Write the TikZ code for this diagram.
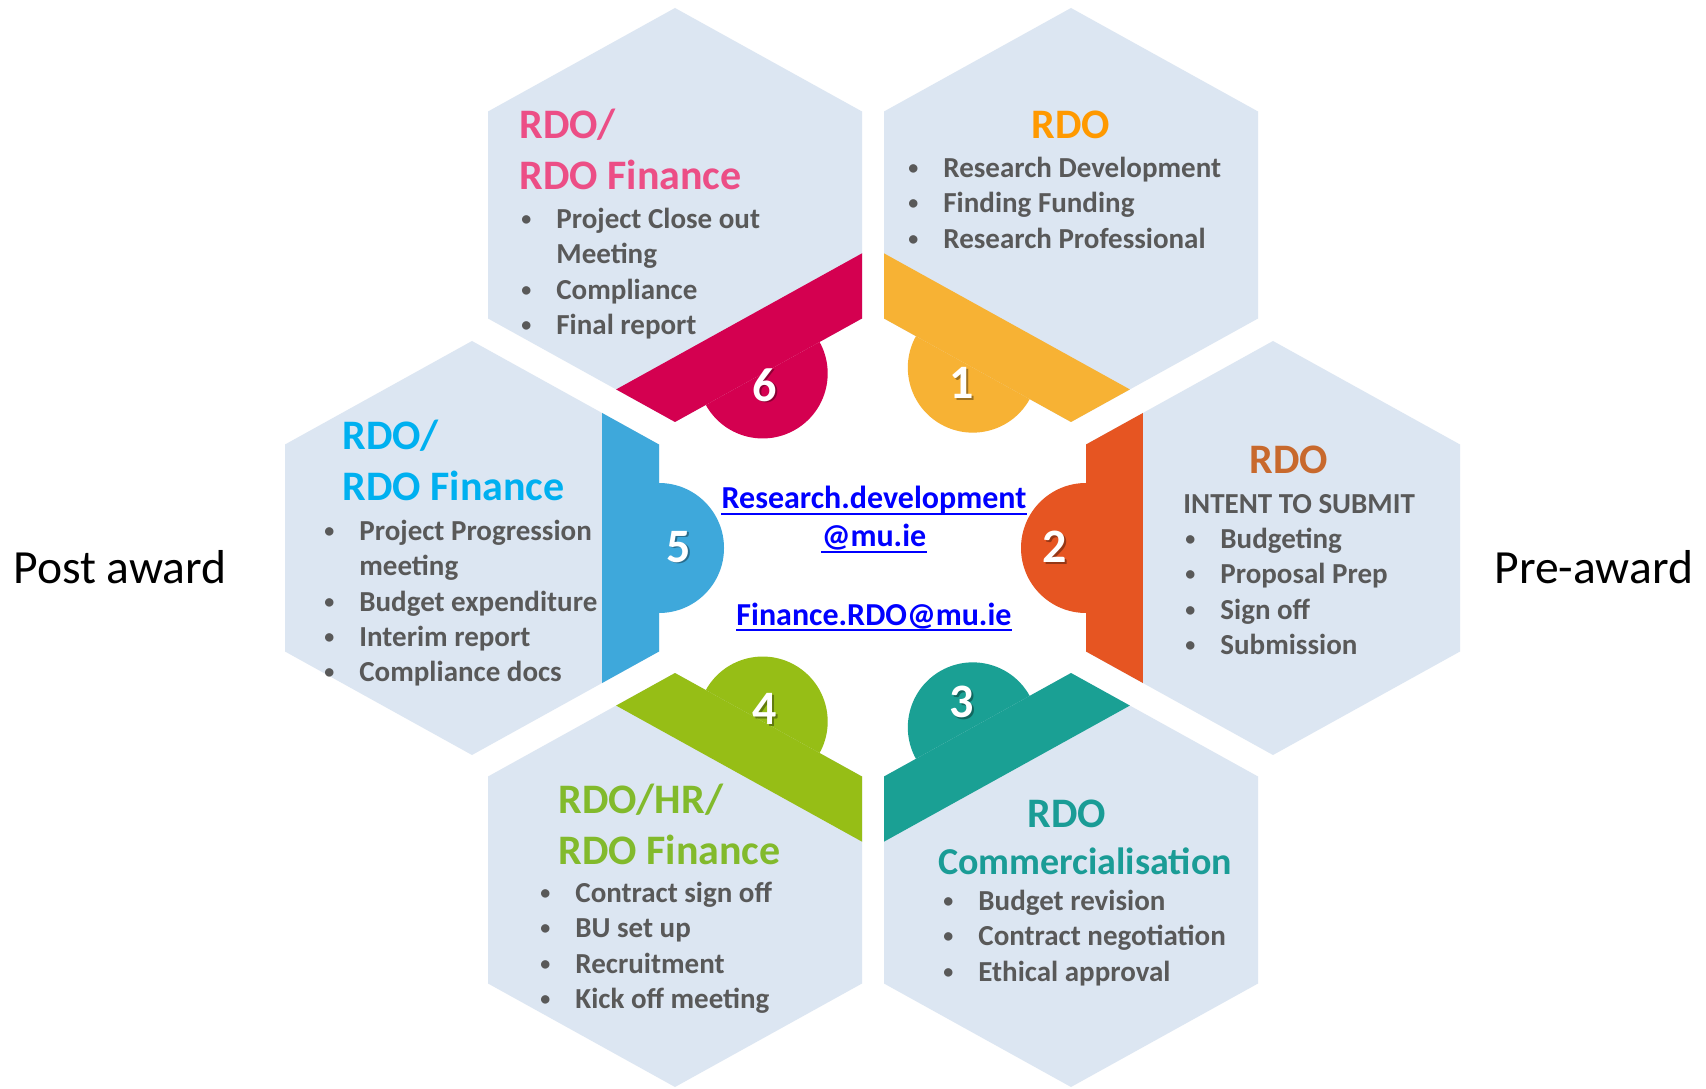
\documentclass[tikz,border=0pt]{standalone}
\usepackage{fontspec}
\setmainfont{Carlito}
\definecolor{hexbg}{RGB}{220,230,242}
\definecolor{cSix}{RGB}{212,0,80}
\definecolor{cOne}{RGB}{247,178,52}
\definecolor{cTwo}{RGB}{230,85,34}
\definecolor{cThree}{RGB}{26,160,148}
\definecolor{cFour}{RGB}{150,190,22}
\definecolor{cFive}{RGB}{62,168,219}
\definecolor{tSix}{RGB}{236,78,134}
\definecolor{tOne}{RGB}{255,153,0}
\definecolor{tTwo}{RGB}{200,105,45}
\definecolor{tThree}{RGB}{26,156,150}
\definecolor{tFour}{RGB}{130,186,44}
\definecolor{tFive}{RGB}{0,176,240}
\definecolor{bodygray}{RGB}{89,89,89}
\definecolor{linkblue}{RGB}{0,0,255}
\newcommand\hexoutline{(0,207) -- (187,103.5) -- (187,-103.5) -- (0,-207) -- (-187,-103.5) -- (-187,103.5) -- cycle}
% #1 centre, #2 normal angle, #3 edge distance, #4 colour, #5 offset of the half disc along the edge
\newcommand\hexpiece[5]{%
  \begin{scope}[shift={#1}]
    \fill[hexbg] \hexoutline;
    \begin{scope}
      \clip \hexoutline;
      \fill[#4, rotate=#2] (#3-57,-300) -- (#3+5,-300) -- (#3+5,300) -- (#3-57,300) -- cycle;
    \end{scope}
    \fill[#4, rotate=#2] (#3,#5+65) arc[start angle=90, end angle=-90, radius=65] -- cycle;
  \end{scope}}
\newcommand\bul{\raisebox{1.5pt}{\fontsize{10}{12}\selectfont\textbullet}}
\newcommand\blist[1]{\begin{tabular}[t]{@{}p{17.5pt}@{}l@{}}#1\end{tabular}}
\tikzset{
  ttl/.style={inner sep=0pt, font=\fontsize{21}{25.5}\selectfont\bfseries},
  bodytxt/.style={inner sep=0pt, text=bodygray, font=\fontsize{14.5}{17.65}\selectfont\bfseries},
  numlbl/.style={inner sep=0pt, text=white, font=\fontsize{24}{28}\selectfont\bfseries},
  numshadow/.style={inner sep=0pt, text=black, opacity=0.35, font=\fontsize{24}{28}\selectfont\bfseries},
  linktxt/.style={inner sep=0pt, text=linkblue, font=\fontsize{16}{19}\selectfont\bfseries},
  linkline/.style={linkblue, line width=1.1pt},
  sidetxt/.style={inner sep=0pt, text=black, font=\fontsize{23.8}{28}\selectfont}
}
\begin{document}
\begin{tikzpicture}[x=0.5pt, y=0.5pt]
\useasboundingbox (0,0) rectangle (1706,1088);
\fill[white] (0,0) rectangle (1706,1088);

% hexagons with coloured bands and half discs
\hexpiece{(675,873)}{-61.04}{181.1}{cSix}{0}
\hexpiece{(1071,873)}{-118.96}{181.1}{cOne}{-12}
\hexpiece{(472,540)}{0}{187}{cFive}{0}
\hexpiece{(1273,540)}{180}{187}{cTwo}{0}
\hexpiece{(675,208)}{61.04}{181.1}{cFour}{0}
\hexpiece{(1071,208)}{118.96}{181.1}{cThree}{12}

% numbers
\node[numshadow] (s6) at (766.5,701.5) {6};
\node[numlbl] (n6) at (765,703) {6};
\node[numshadow] (s1) at (963.5,703.5) {1};
\node[numlbl] (n1) at (962,705) {1};
\node[numshadow] (s5) at (680.5,539.5) {5};
\node[numlbl] (n5) at (679,541) {5};
\node[numshadow] (s2) at (1056.5,539.5) {2};
\node[numlbl] (n2) at (1055,541) {2};
\node[numshadow] (s4) at (766.5,377.5) {4};
\node[numlbl] (n4) at (765,379) {4};
\node[numshadow] (s3) at (963.5,384.5) {3};
\node[numlbl] (n3) at (962,386) {3};

% hex 6
\node[ttl, text=tSix, anchor=base west] (h6a) at (519,949.5) {RDO/};
\node[ttl, text=tSix, anchor=base west] (h6b) at (519,898.5) {RDO Finance};
\node[bodytxt, anchor=base west] (h6c) at (521,859.5) {\blist{\bul & Project Close out\\ & Meeting\\ \bul & Compliance\\ \bul & Final report}};

% hex 1
\node[ttl, text=tOne, anchor=base] (h1a) at (1071,949.5) {RDO};
\node[bodytxt, anchor=base west] (h1b) at (908,910.5) {\blist{\bul & Research Development\\ \bul & Finding Funding\\ \bul & Research Professional}};

% hex 5
\node[ttl, text=tFive, anchor=base west] (h5a) at (342,638.5) {RDO/};
\node[ttl, text=tFive, anchor=base west] (h5b) at (342,587.5) {RDO Finance};
\node[bodytxt, anchor=base west] (h5c) at (324,547.5) {\blist{\bul & Project Progression\\ & meeting\\ \bul & Budget expenditure\\ \bul & Interim report\\ \bul & Compliance docs}};

% hex 2
\node[ttl, text=tTwo, anchor=base] (h2a) at (1289,614.5) {RDO};
\node[bodytxt, anchor=base west] (h2b) at (1183,574.5) {INTENT TO SUBMIT};
\node[bodytxt, anchor=base west] (h2c) at (1185,539.5) {\blist{\bul & Budgeting\\ \bul & Proposal Prep\\ \bul & Sign off\\ \bul & Submission}};

% hex 4
\node[ttl, text=tFour, anchor=base west] (h4a) at (558,274.5) {RDO/HR/};
\node[ttl, text=tFour, anchor=base west] (h4b) at (558,223.5) {RDO Finance};
\node[bodytxt, anchor=base west] (h4c) at (540,185.5) {\blist{\bul & Contract sign off\\ \bul & BU set up\\ \bul & Recruitment\\ \bul & Kick off meeting}};

% hex 3
\node[ttl, text=tThree, anchor=base] (h3a) at (1067,260.5) {RDO};
\node[ttl, text=tThree, anchor=base, font=\fontsize{19}{23}\selectfont\bfseries] (h3b) at (1085,214) {Commercialisation};
\node[bodytxt, anchor=base west] (h3c) at (943,177.5) {\blist{\bul & Budget revision\\ \bul & Contract negotiation\\ \bul & Ethical approval}};

% side labels
\node[sidetxt, anchor=base west] (post) at (13,505) {Post award};
\node[sidetxt, anchor=base west] (pre) at (1494,505) {Pre-award};

% links
\node[linktxt, anchor=base] (lk1) at (874,579) {Research.development};
\node[linktxt, anchor=base] (lk2) at (874,541) {@mu.ie};
\node[linktxt, anchor=base] (lk3) at (874,463) {Finance.RDO@mu.ie};
\draw[linkline] ([yshift=-2.5pt]lk1.base west) -- ([yshift=-2.5pt]lk1.base east);
\draw[linkline] ([yshift=-2.5pt]lk2.base west) -- ([yshift=-2.5pt]lk2.base east);
\draw[linkline] ([yshift=-2.5pt]lk3.base west) -- ([yshift=-2.5pt]lk3.base east);
\end{tikzpicture}
\end{document}
